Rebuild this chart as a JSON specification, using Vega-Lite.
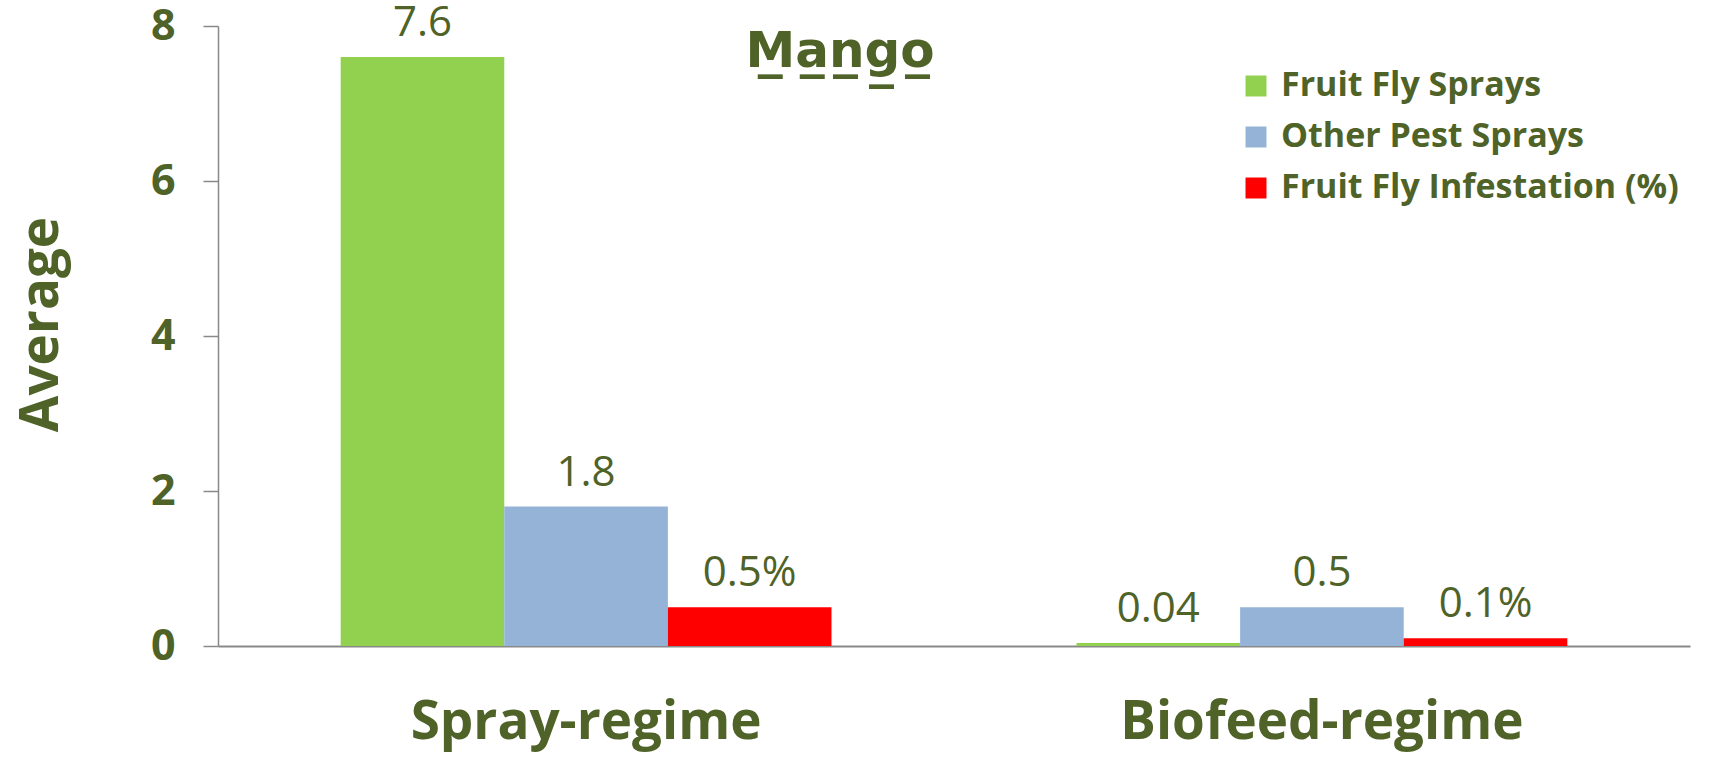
{
  "$schema": "https://vega.github.io/schema/vega-lite/v6.json",
  "width": 1472,
  "height": 620,
  "autosize": {"type": "none"},
  "padding": {"left": 218, "top": 26, "right": 20, "bottom": 112},
  "background": "white",
  "config": {"view": {"stroke": null}, "font": "Open Sans"},
  "title": {
    "text": "M̲a̲n̲g̲o̲",
    "anchor": "middle",
    "frame": "group",
    "dx": -114,
    "offset": -75,
    "baseline": "top",
    "fontSize": 50,
    "fontWeight": "bold",
    "color": "#4F6228",
    "font": "DejaVu Sans"
  },
  "data": {
    "values": [
      {"regime": "Spray-regime", "series": "Fruit Fly Sprays", "value": 7.6, "label": "7.6"},
      {"regime": "Spray-regime", "series": "Other Pest Sprays", "value": 1.8, "label": "1.8"},
      {"regime": "Spray-regime", "series": "Fruit Fly Infestation (%)", "value": 0.5, "label": "0.5%"},
      {"regime": "Biofeed-regime", "series": "Fruit Fly Sprays", "value": 0.04, "label": "0.04"},
      {"regime": "Biofeed-regime", "series": "Other Pest Sprays", "value": 0.5, "label": "0.5"},
      {"regime": "Biofeed-regime", "series": "Fruit Fly Infestation (%)", "value": 0.1, "label": "0.1%"}
    ]
  },
  "encoding": {
    "x": {
      "field": "regime",
      "type": "nominal",
      "sort": ["Spray-regime", "Biofeed-regime"],
      "scale": {"paddingInner": 0.333, "paddingOuter": 0.1667},
      "axis": {
        "title": null,
        "domainColor": "#898989",
        "domainWidth": 2,
        "ticks": false,
        "labelAngle": 0,
        "labelPadding": 50,
        "labelFontSize": 53,
        "labelFontWeight": "bold",
        "labelColor": "#4F6228",
        "labelFont": "Open Sans",
        "labelLimit": 1000
      }
    },
    "xOffset": {
      "field": "series",
      "type": "nominal",
      "sort": ["Fruit Fly Sprays", "Other Pest Sprays", "Fruit Fly Infestation (%)"],
      "scale": {"paddingInner": 0, "paddingOuter": 0}
    },
    "y": {
      "field": "value",
      "type": "quantitative",
      "scale": {"domain": [0, 8]},
      "axis": {
        "values": [0, 2, 4, 6, 8],
        "grid": false,
        "domainColor": "#898989",
        "domainWidth": 1.5,
        "tickColor": "#898989",
        "tickWidth": 1.5,
        "tickSize": 15,
        "labelPadding": 28,
        "labelFont": "Open Sans",
        "labelFontSize": 43,
        "labelFontWeight": "bold",
        "labelColor": "#4F6228",
        "title": "Average",
        "titleFont": "Open Sans",
        "titleFontSize": 53,
        "titleFontWeight": "bold",
        "titleColor": "#4F6228",
        "titleX": -177,
        "titleY": 298,
        "titleAngle": 270,
        "titleAlign": "center",
        "titleBaseline": "middle"
      }
    }
  },
  "layer": [
    {
      "mark": {"type": "bar"},
      "encoding": {
        "color": {
          "field": "series",
          "type": "nominal",
          "sort": ["Fruit Fly Sprays", "Other Pest Sprays", "Fruit Fly Infestation (%)"],
          "scale": {
            "domain": ["Fruit Fly Sprays", "Other Pest Sprays", "Fruit Fly Infestation (%)"],
            "range": ["#92D050", "#95B3D7", "#FF0000"]
          },
          "legend": {
            "orient": "none",
            "legendX": 1021,
            "legendY": 43,
            "title": null,
            "symbolType": "square",
            "symbolSize": 440,
            "symbolStrokeWidth": 0,
            "symbolOpacity": 1,
            "labelFont": "Open Sans",
            "labelFontSize": 34,
            "labelFontWeight": "bold",
            "labelColor": "#4F6228",
            "labelOffset": 8,
            "rowPadding": 17,
            "labelLimit": 600
          }
        }
      }
    },
    {
      "mark": {"type": "text", "baseline": "alphabetic", "dy": -21, "fontSize": 42, "color": "#4F6228", "font": "Open Sans"},
      "encoding": {"text": {"field": "label"}}
    }
  ]
}
